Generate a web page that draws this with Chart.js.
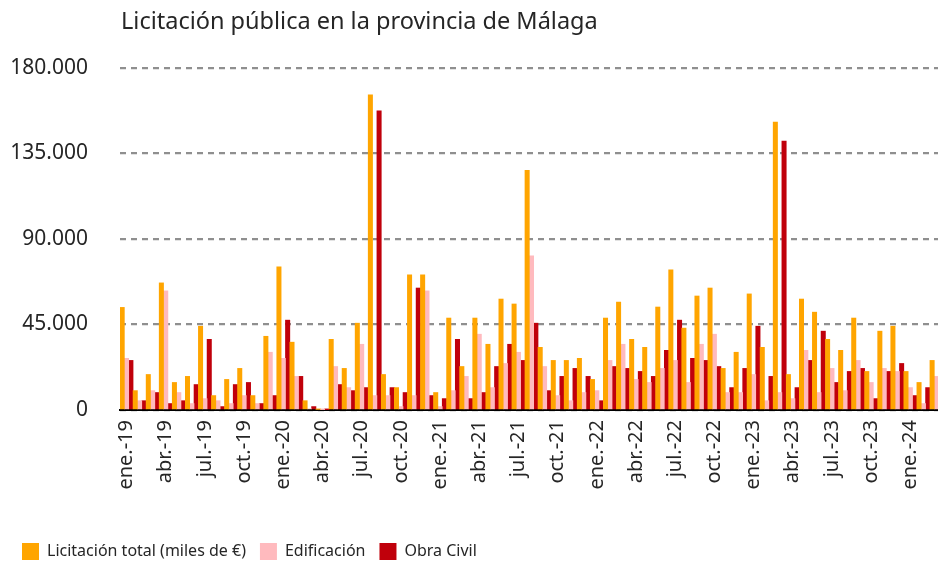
<!DOCTYPE html>
<html lang="es">
<head>
<meta charset="UTF-8" />
<title>Licitación pública en la provincia de Málaga</title>
<script src="https://cdn.jsdelivr.net/npm/chart.js"></script>
<style>
  html, body { margin: 0; padding: 0; background: #fff; overflow: hidden; }
  #wrap { position: relative; width: 944px; height: 565px; }
  #title { position: absolute; left: 121px; top: 4px; font-family: "Noto Sans", sans-serif; font-size: 23.5px; color: #262626; white-space: nowrap; }
</style>
</head>
<body>
<div id="wrap">
  <div id="title">Licitación pública en la provincia de Málaga</div>
  <canvas id="chart" width="944" height="565"></canvas>
</div>
<script>
// meses ene.-19 ... mar.-24
const meses = ['ene.', 'feb.', 'mar.', 'abr.', 'may.', 'jun.', 'jul.', 'ago.', 'sep.', 'oct.', 'nov.', 'dic.'];
const labels = [];
for (let a = 19; a <= 24; a++) {
  meses.forEach((m, i) => { if (a < 24 || i < 3) labels.push(m + '-' + a); });
}

const licitacionTotal = [
  54000, 10200, 18700, 66900, 14500, 17700, 44100, 7600, 16100, 21900, 7600, 38800,
  75400, 35700, 4900, 300, 37200, 21900, 45700, 165900, 18700, 11800, 71100, 71100,
  9200, 48400, 22900, 48400, 34600, 58400, 55800, 126200, 33000, 26100, 26100, 27200,
  16100, 48400, 56800, 37200, 33000, 54200, 73800, 43100, 60000, 64200, 21900, 30400,
  61100, 33000, 151600, 18700, 58400, 51500, 37200, 31400, 48400, 20300, 41500, 44100,
  20300, 14500, 26100
];
const edificacion = [
  27200, 4900, 10200, 62700, 9200, 3400, 6000, 4900, 3400, 7600, 3400, 30400,
  27200, 17700, 600, 200, 22900, 11800, 34600, 7600, 7600, 1800, 7600, 62700,
  1800, 10200, 17700, 39900, 11800, 24500, 30400, 81200, 22900, 7600, 4900, 9200,
  10200, 26100, 34600, 16100, 14500, 21900, 26100, 14500, 34600, 39900, 9200, 9200,
  18700, 4900, 9200, 6000, 31400, 9200, 21900, 10200, 26100, 14500, 21900, 20300,
  11800, 3400, 17700
];
const obraCivil = [
  26100, 4900, 9200, 3400, 4900, 13400, 37200, 1800, 13400, 14500, 3400, 7600,
  47300, 17700, 1800, 100, 13400, 10200, 11800, 157400, 11800, 9200, 64200, 7600,
  6000, 37200, 6000, 9200, 22900, 34600, 26100, 45700, 10200, 17700, 21900, 17700,
  4900, 22900, 21900, 20300, 17700, 31400, 47300, 27200, 26100, 22900, 11800, 21900,
  44100, 17700, 141600, 11800, 26100, 41500, 14500, 20300, 21900, 6000, 20300, 24500,
  7600, 11800, 10000
];

const yTicks = [0, 45000, 90000, 135000, 180000];
const font = 'Noto Sans';
const textColor = '#262626';

new Chart(document.getElementById('chart'), {
  type: 'bar',
  data: {
    labels: labels,
    datasets: [
      { label: 'Licitación total (miles de €)', data: licitacionTotal, backgroundColor: '#FFA500' },
      { label: 'Edificación', data: edificacion, backgroundColor: '#FFBABE' },
      { label: 'Obra Civil', data: obraCivil, backgroundColor: '#C0000B' }
    ]
  },
  options: {
    responsive: false,
    animation: false,
    layout: { padding: { left: 8, right: 1, top: 68, bottom: -5 } },
    datasets: { bar: { categoryPercentage: 1, barPercentage: 1 } },
    plugins: {
      tooltip: { enabled: false },
      legend: {
        position: 'bottom',
        align: 'start',
        labels: {
          boxWidth: 17, boxHeight: 17, padding: 14,
          color: textColor,
          font: { family: font, size: 16 }
        }
      }
    },
    scales: {
      x: {
        z: 1,
        grid: { display: false, drawTicks: false },
        border: { color: '#000', width: 2 },
        ticks: {
          autoSkip: false, minRotation: 90, maxRotation: 90, padding: 10,
          color: textColor, font: { family: font, size: 20 },
          callback: function (v, i) { return i % 3 === 0 ? labels[i] : ''; }
        },
        afterFit: function (s) { s.height = 119; s.paddingLeft = 0; s.paddingRight = 0; }
      },
      y: {
        min: 0, max: 180000,
        afterBuildTicks: function (s) { s.ticks = yTicks.map(v => ({ value: v })); },
        grid: { color: '#8f8f8f', lineWidth: 2.2, drawTicks: false },
        border: { display: false, dash: [6, 5] },
        ticks: {
          padding: 32, color: textColor, font: { family: font, size: 21 },
          callback: function (v) { return v.toLocaleString('es-ES', { useGrouping: true }).replace(/\s/g, '.'); }
        },
        afterFit: function (s) { s.width = 112; s.paddingTop = 0; s.paddingBottom = 0; }
      }
    }
  }
});
</script>
</body>
</html>
